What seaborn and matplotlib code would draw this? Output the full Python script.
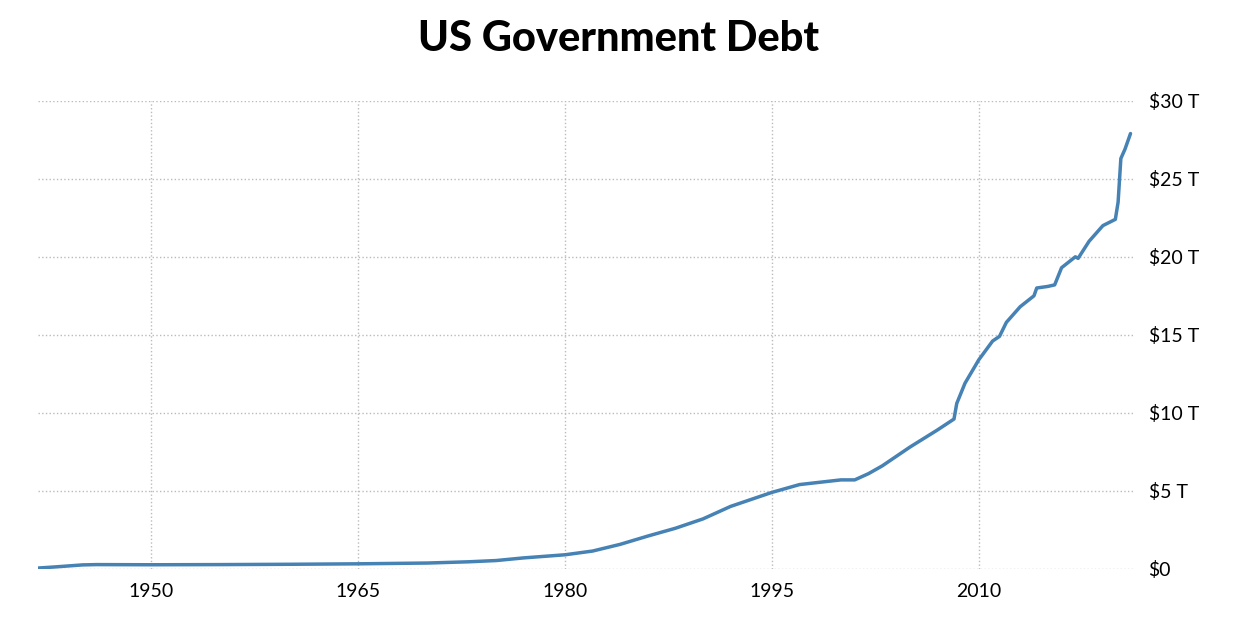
import numpy as np
import pandas as pd
import matplotlib
matplotlib.use("Agg")
import matplotlib.pyplot as plt
import seaborn as sns

# debt in trillions of US$
years = [1941.8, 1943, 1945, 1946, 1950, 1955, 1960, 1965, 1970, 1973, 1975, 1977, 1980,
         1982, 1984, 1986, 1988, 1990, 1992, 1994, 1995, 1997, 1999, 2000, 2001, 2002,
         2003, 2005, 2007, 2008.2, 2008.4, 2009, 2010, 2011, 2011.5, 2012, 2013, 2014,
         2014.2, 2015, 2015.5, 2016, 2017, 2017.2, 2018, 2019, 2019.9, 2020.1, 2020.3,
         2020.6, 2021.0]
debt = [0.05, 0.12, 0.25, 0.27, 0.26, 0.27, 0.29, 0.32, 0.37, 0.45, 0.53, 0.7, 0.9,
        1.14, 1.57, 2.1, 2.6, 3.2, 4.0, 4.6, 4.9, 5.4, 5.6, 5.7, 5.7, 6.1, 6.6, 7.8, 8.9,
        9.6, 10.6, 11.9, 13.4, 14.6, 14.9, 15.8, 16.8, 17.5, 18.0, 18.1, 18.2, 19.3, 20.0,
        19.9, 21.0, 22.0, 22.4, 23.5, 26.3, 26.9, 27.9]
xticks = [1950, 1965, 1980, 1995, 2010]
yticks = [0, 5, 10, 15, 20, 25, 30]
ylabels = ["$0", "$5 T", "$10 T", "$15 T", "$20 T", "$25 T", "$30 T"]

df = pd.DataFrame({"year": years, "debt": debt})

sns.set_style("white")
plt.rcParams['font.family'] = ['Lato', 'DejaVu Sans']

fig = plt.figure(figsize=(12.36, 6.42), dpi=100)
ax = fig.add_axes([0.031, 0.114, 0.887, 0.729])
sns.lineplot(data=df, x="year", y="debt", ax=ax, color="#4682b4", linewidth=2.5)

ax.set_xlim(1941.8, 2021.3)
ax.set_ylim(0, 30)
ax.set_xticks(xticks)
ax.set_yticks(yticks)
ax.set_yticklabels(ylabels)
ax.yaxis.tick_right()
ax.tick_params(length=0, labelsize=14, pad=10, labelcolor="black")
ax.grid(True, linestyle=":", color="#bbbbbb", linewidth=1)
for s in ax.spines.values():
    s.set_visible(False)
ax.set_xlabel("")
ax.set_ylabel("")
fig.text(0.5, 0.94, "US Government Debt", ha="center", va="center",
         fontsize=30, fontweight="black", color="black")

fig.savefig("out.png", dpi=100)
